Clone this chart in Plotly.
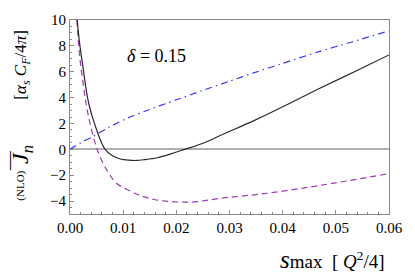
import plotly.graph_objects as go

# ---- data ----
s_black = [0.00134, 0.0019, 0.00243, 0.0029, 0.00334, 0.0038, 0.00425, 0.0055, 0.0066, 0.008, 0.0095,
           0.011, 0.0125, 0.014, 0.0164, 0.019, 0.0216, 0.0249, 0.0289, 0.0347, 0.0407, 0.0468, 0.0534, 0.06]
v_black = [10.0, 7.9, 6.4, 5.0, 3.9, 3.1, 2.45, 0.95, 0.0, -0.5, -0.75,
           -0.84, -0.86, -0.8, -0.65, -0.35, 0.0, 0.45, 1.19, 2.24, 3.43, 4.68, 5.98, 7.3]

s_purple = [0.0013, 0.0018, 0.00243, 0.003, 0.00365, 0.00456, 0.0051, 0.0065, 0.00875, 0.0115, 0.0128,
            0.0142, 0.016, 0.018, 0.021, 0.024, 0.028, 0.0365, 0.045, 0.052, 0.06]
v_purple = [10.0, 7.3, 5.2, 3.6, 2.2, 0.73, 0.0, -1.3, -2.62, -3.25, -3.5,
            -3.7, -3.9, -4.0, -4.08, -4.05, -3.8, -3.43, -2.92, -2.45, -1.88]

s_blue = [0.0, 0.002, 0.00425, 0.0073, 0.0109, 0.0142, 0.02, 0.025, 0.03, 0.0347, 0.04, 0.0468, 0.053, 0.06]
v_blue = [0.0, 0.5, 0.98, 1.7, 2.43, 2.96, 3.83, 4.56, 5.27, 5.93, 6.65, 7.55, 8.3, 9.16]

x_ticks = [0.00, 0.01, 0.02, 0.03, 0.04, 0.05, 0.06]
x_ticklabels = ["0.00", "0.01", "0.02", "0.03", "0.04", "0.05", "0.06"]
y_ticks = [-4, -2, 0, 2, 4, 6, 8, 10]

FONT = "Liberation Serif"

fig = go.Figure()
fig.add_trace(go.Scatter(x=s_blue, y=v_blue, mode="lines", line=dict(color="#3b3bf0", width=1.2,
              dash="7px,4px,1.5px,4px", shape="spline", smoothing=0.8), showlegend=False))
fig.add_trace(go.Scatter(x=s_purple, y=v_purple, mode="lines", line=dict(color="#a03cb4", width=1.2,
              dash="6px,4px", shape="spline"), showlegend=False))
fig.add_trace(go.Scatter(x=s_black, y=v_black, mode="lines", line=dict(color="#2a2a2a", width=1.2,
              shape="spline"), showlegend=False))

axis_common = dict(showline=True, linecolor="#8a8a8a", linewidth=1, mirror=True, showgrid=False,
                   ticks="inside", ticklen=4, tickwidth=1, tickcolor="#8a8a8a",
                   tickfont=dict(family=FONT, size=15, color="black"))

fig.update_xaxes(range=[0, 0.06], tickvals=x_ticks, ticktext=x_ticklabels, zeroline=False,
                 minor=dict(dtick=0.002, ticks="inside", ticklen=2, tickcolor="#8a8a8a"),
                 **axis_common)
fig.update_yaxes(range=[-5, 10], tickvals=y_ticks, zeroline=True, zerolinecolor="#b0b0b0",
                 zerolinewidth=1.5,
                 minor=dict(dtick=0.5, ticks="inside", ticklen=2, tickcolor="#8a8a8a"),
                 **axis_common)

# page pixel -> paper coords (plot area spans x 70..399, y 12..214 on the page)
def px2paper(X, Y):
    return (X - 70) / 329.0, (214 - Y) / 202.0

ann = []
def add_text(X, Y, text, size, angle=0, xanchor="center", yanchor="middle"):
    x, y = px2paper(X, Y)
    ann.append(dict(x=x, y=y, xref="paper", yref="paper", xanchor=xanchor, yanchor=yanchor,
                    showarrow=False, textangle=angle, text=text,
                    font=dict(family=FONT, size=size, color="black")))

add_text(127, 50, "<i>δ</i> = 0.15", 18, xanchor="left")
add_text(19, 185, "(NLO)", 11, angle=-90)
add_text(21, 152, "<i>J</i><sub><i>n</i></sub>", 24, angle=-90)
add_text(6, 158, "—", 19, angle=-90)
add_text(21, 58, "[<i>α<sub>s</sub> C<sub>F</sub></i>/4<i>π</i>]", 17, angle=-90)
add_text(397, 277, "<span style='font-size:25px'><i>s</i></span>max  [ <i>Q</i><sup>2</sup>/4]", 19,
         xanchor="right", yanchor="bottom")

fig.update_layout(width=415, height=277, margin=dict(l=70, r=16, t=12, b=63),
                  plot_bgcolor="white", paper_bgcolor="white", annotations=ann,
                  font=dict(family=FONT))

fig.write_html("out.html", config={"displayModeBar": False},
               post_script="document.body.style.margin='0px';")
